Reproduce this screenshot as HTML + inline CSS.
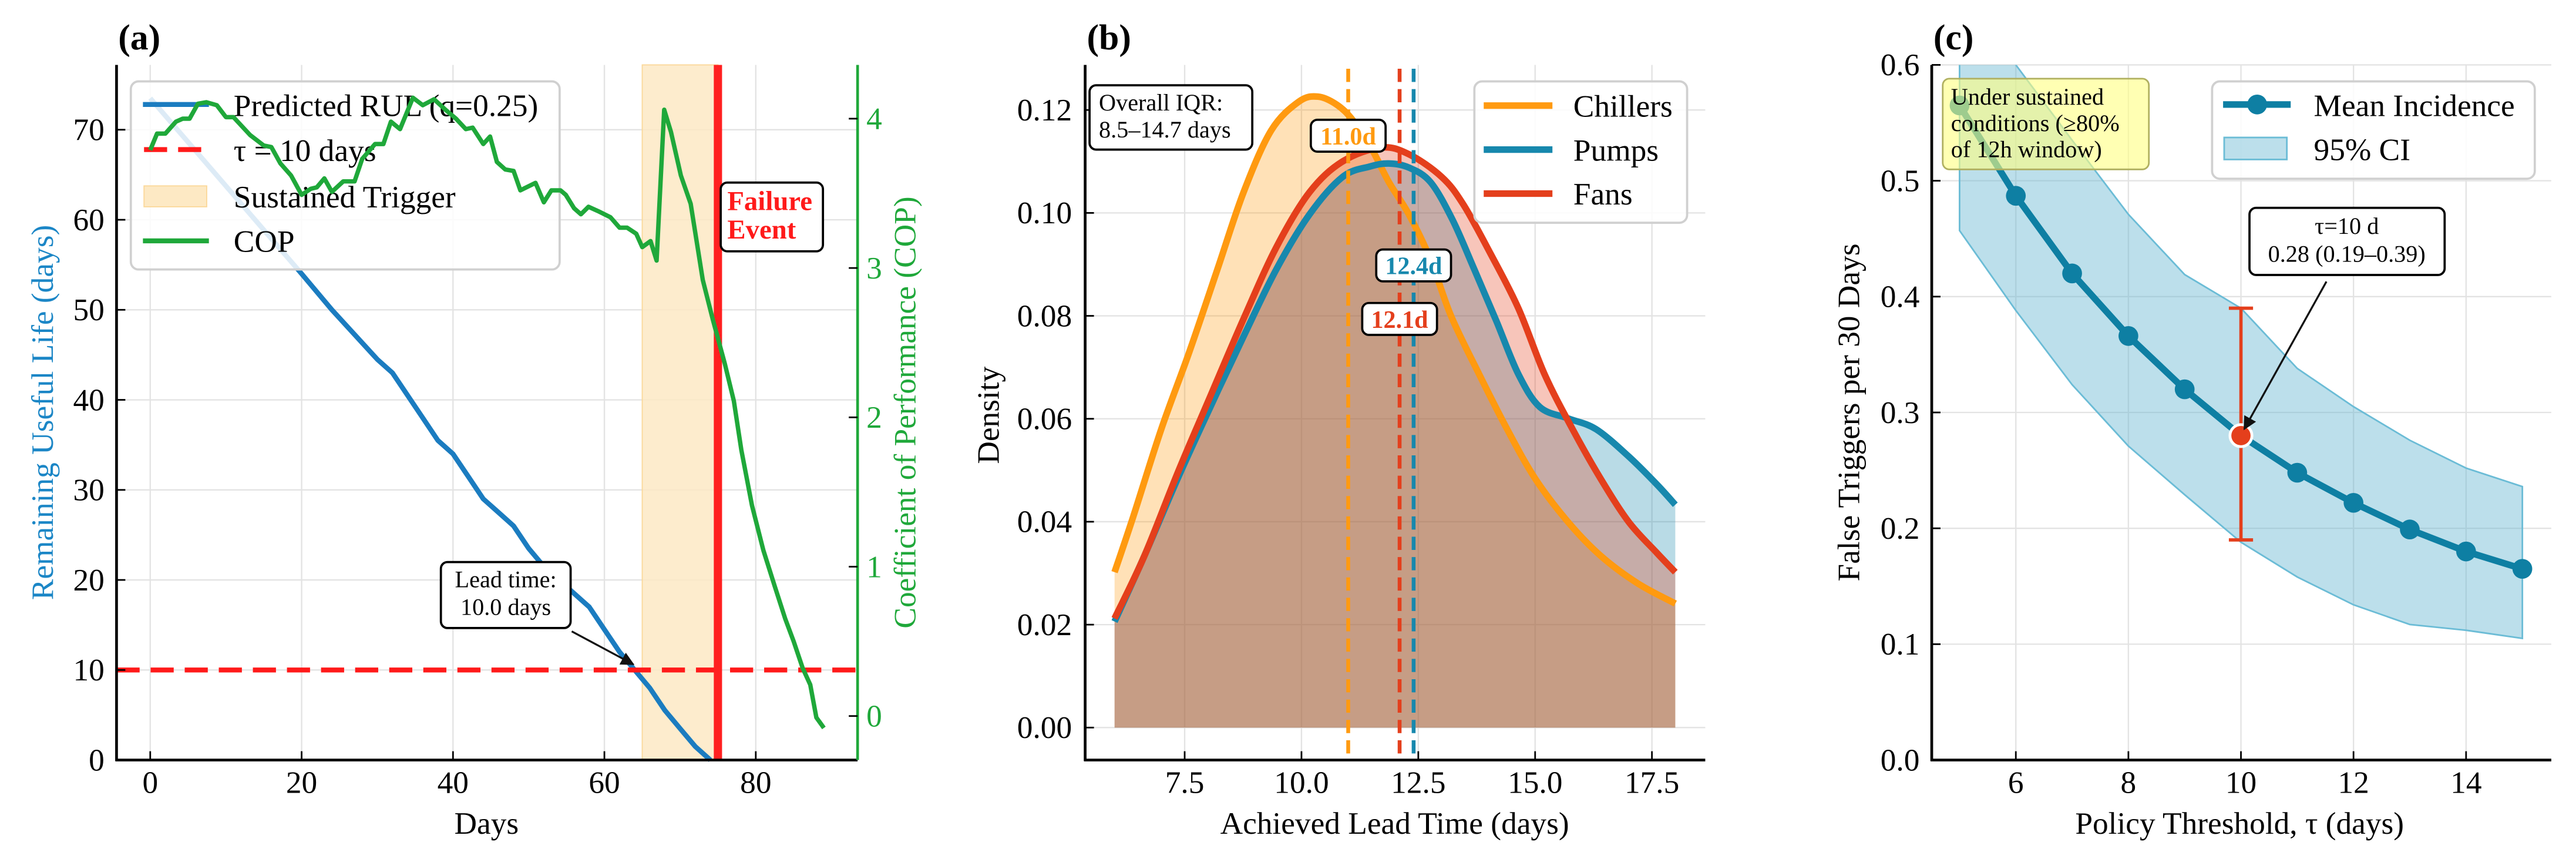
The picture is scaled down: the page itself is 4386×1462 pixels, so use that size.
<!DOCTYPE html>
<html><head><meta charset="utf-8">
<style>
html,body{margin:0;padding:0;background:#fff;}
svg{display:block;font-family:"Liberation Serif",serif;}
</style></head>
<body>
<svg id="fig" xmlns="http://www.w3.org/2000/svg" width="4386" height="1462" viewBox="0 0 4386 1462">
<defs>
<marker id="arr" viewBox="0 0 10 10" refX="9" refY="5" markerWidth="7" markerHeight="7" orient="auto-start-reverse"><path d="M0,0 L10,5 L0,10 z" fill="#111"/></marker>
</defs>
<g id="pa" transform="translate(0,0) scale(0.936)"></g>
<g id="pb" transform="translate(1462,0) scale(0.936)"></g>
<g id="pc" transform="translate(2924,0) scale(0.936)"></g>
</svg>
<script>
// ---------- Panel (a) data ----------
const rulDays = [0,20,24,30,32,36,38,40,42,44,46,48,50,52,56,58,60,62,64,66,68,70,72,74];
const rulVals = [73.5,54,50,44.5,43,38,35.5,34,31.5,29,27.5,26,23.5,21.5,18.5,17,14.5,12,10,8,5.5,3.5,1.5,0];
const copDays = [0,0.9,2,3.4,4.3,5.2,6.3,7.4,8.8,10,11,13.2,15,16,17.2,18.6,20,21.2,22,23,24,25.5,27,28,29.7,30.8,31.8,33,34.7,36,37.5,39,40.4,41.7,42.6,44,44.9,45.8,46.9,48,48.9,50.9,52,53,54.2,54.9,56,56.9,57.9,59.2,60.8,62,63,64.2,65,66.1,66.9,67.9,68.8,70.1,71.4,73,74.3,75.9,77.1,78.1,79.5,81,82.5,83.9,85,86.2,87.2,88,89];
const copVals = [3.79,3.9,3.9,3.98,4.0,4.0,4.1,4.11,4.09,4.01,4.01,3.89,3.82,3.81,3.7,3.62,3.49,3.53,3.54,3.6,3.51,3.58,3.58,3.73,3.83,3.83,3.98,3.93,4.14,4.09,4.13,4.06,4.0,3.93,3.94,3.83,3.88,3.71,3.66,3.65,3.52,3.57,3.44,3.52,3.52,3.49,3.4,3.36,3.41,3.38,3.34,3.27,3.27,3.23,3.14,3.18,3.05,4.06,3.91,3.62,3.43,2.92,2.66,2.36,2.11,1.78,1.41,1.11,0.87,0.65,0.5,0.32,0.21,-0.01,-0.08];
const aXTicks = [0,20,40,60,80];
const aYTicks = [0,10,20,30,40,50,60,70];
const aY2Ticks = [0,1,2,3,4];
const tauLine = [10];
const triggerSpan = [65,75];
const failureDay = [75];
// ---------- Panel (b) data ----------
const chX = [6,6.4,7.0,7.6,8.2,8.76,9.35,9.94,10.35,10.76,11.1,11.5,11.87,12.3,12.76,13.2,13.8,14.4,15.0,15.7,16.4,17.2,18];
const chY = [0.0302,0.041,0.058,0.073,0.089,0.104,0.116,0.1216,0.1226,0.121,0.118,0.1125,0.106,0.0997,0.091,0.080,0.0687,0.058,0.0484,0.040,0.0334,0.028,0.0241];
const puX = [6,6.64,7.35,8.05,8.76,9.46,10.17,10.88,11.46,11.87,12.3,12.76,13.23,13.7,14.17,14.64,15.1,15.7,16.3,17.0,17.6,18];
const puY = [0.0206,0.0334,0.0484,0.0623,0.076,0.089,0.0997,0.107,0.109,0.1096,0.1088,0.106,0.0987,0.089,0.079,0.0687,0.0623,0.0601,0.058,0.0527,0.0473,0.0433];
const faX = [6,6.64,7.35,8.05,8.76,9.46,10.17,10.88,11.7,12.3,13.0,13.46,14.05,14.64,15.2,15.8,16.4,17.0,17.6,18];
const faY = [0.0212,0.0334,0.0495,0.0644,0.0794,0.0933,0.104,0.110,0.1127,0.1114,0.107,0.1017,0.092,0.0815,0.0687,0.058,0.0484,0.040,0.034,0.0302];
const medians = [11.0,12.4,12.1];
const medianLabelY = [0.115,0.0898,0.0794];
const medianLabels = ["11.0d","12.4d","12.1d"];
const bXTicks = [7.5,10.0,12.5,15.0,17.5];
const bYTicks = [0,0.02,0.04,0.06,0.08,0.10,0.12];
// ---------- Panel (c) data ----------
const tauVals = [5,6,7,8,9,10,11,12,13,14,15];
const meanInc = [0.565,0.487,0.42,0.366,0.32,0.28,0.248,0.222,0.199,0.18,0.165];
const ciUpper = [0.70,0.60,0.535,0.471,0.419,0.39,0.338,0.305,0.276,0.252,0.236];
const ciLower = [0.457,0.388,0.324,0.271,0.229,0.188,0.158,0.134,0.117,0.112,0.105];
const selTau = [10];
const selVal = [0.28,0.19,0.39];
const cXTicks = [6,8,10,12,14];
const cYTicks = [0,0.1,0.2,0.3,0.4,0.5,0.6];

const NS="http://www.w3.org/2000/svg";
function mk(parent, tag, attrs, text){
  const e=document.createElementNS(NS,tag);
  for(const k in attrs) e.setAttribute(k,attrs[k]);
  if(text!==undefined) e.textContent=text;
  parent.appendChild(e); return e;
}
function lin(d0,d1,r0,r1){return v=>r0+(v-d0)/(d1-d0)*(r1-r0);}
function poly(xs,ys,sx,sy){return xs.map((x,i)=>sx(x).toFixed(1)+","+sy(ys[i]).toFixed(1)).join(" ");}
function smooth(xs,ys,sx,sy){
  const p=xs.map((x,i)=>[sx(x),sy(ys[i])]);
  let d="M"+p[0][0]+","+p[0][1];
  for(let i=0;i<p.length-1;i++){
    const p0=p[i-1]||p[i],p1=p[i],p2=p[i+1],p3=p[i+2]||p2;
    const c1=[p1[0]+(p2[0]-p0[0])/6,p1[1]+(p2[1]-p0[1])/6];
    const c2=[p2[0]-(p3[0]-p1[0])/6,p2[1]-(p3[1]-p1[1])/6];
    d+=" C"+c1[0].toFixed(1)+","+c1[1].toFixed(1)+" "+c2[0].toFixed(1)+","+c2[1].toFixed(1)+" "+p2[0].toFixed(1)+","+p2[1].toFixed(1);
  }
  return d;
}
const L=118,B=1382,FS=57,SF=43;
function grid(g,L0,R0,xs,ys,sx,sy){
  xs.forEach(v=>{const e=mk(g,"line",{x1:sx(v),x2:sx(v),y1:L,y2:B,stroke:"#e3e3e3","stroke-width":2.5});
    
    });
  ys.forEach(v=>{const e=mk(g,"line",{x1:L0,x2:R0,y1:sy(v),y2:sy(v),stroke:"#e3e3e3","stroke-width":2.5});
    
    });
}
function axes(g,L0,R0,xs,ys,sx,sy,fx,fy,tx){
  xs.forEach(v=>{
    const t=mk(g,"line",{x1:sx(v),x2:sx(v),y1:B,y2:B-16,stroke:"#000","stroke-width":3});
    
    
    const l=mk(g,"text",{x:sx(v),y:B+60,"text-anchor":"middle","font-size":FS},fx(v));
    
    
  });
  ys.forEach(v=>{
    const t=mk(g,"line",{x1:L0,x2:L0+16,y1:sy(v),y2:sy(v),stroke:"#000","stroke-width":3});
    
    
    const l=mk(g,"text",{x:tx,y:sy(v)+19,"text-anchor":"end","font-size":FS},fy(v));
    
    
  });
  const s1=mk(g,"line",{x1:L0,x2:L0,y1:L,y2:B+2,stroke:"#000","stroke-width":5});
  
  
  const s2=mk(g,"line",{x1:L0-2,x2:R0,y1:B,y2:B,stroke:"#000","stroke-width":5});
  
  
}
function label(g,txt,x,y,opts,name){
  const a=Object.assign({x:x,y:y,"font-size":FS},opts||{});
  const e=mk(g,"text",a,txt);
  
  
  return e;
}
function box(g,x,y,w,h,name,fill,stroke){
  const e=mk(g,"rect",{x:x,y:y,width:w,height:h,rx:12,fill:fill||"#fff",stroke:stroke||"#000","stroke-width":4});
  
  
  return e;
}

// ================= Panel A =================
(function(){
  const g=document.getElementById("pa");
  const L0=212,R0=1560;
  const sx=lin(-4.45,93.45,L0,R0), sy=lin(0,77.2,B,L), sy2=lin(0,4.36,1302,L);
  grid(g,L0,R0,aXTicks,aYTicks,sx,sy);
  const span=mk(g,"rect",{x:sx(triggerSpan[0]),y:L,width:sx(triggerSpan[1])-sx(triggerSpan[0]),height:B-L,fill:"#fde9c4","fill-opacity":0.85,stroke:"#fbd89a","stroke-width":2});
  
  
  const rul=mk(g,"polyline",{points:poly(rulDays,rulVals,sx,sy),fill:"none",stroke:"#1b7cc0","stroke-width":9,"stroke-linejoin":"round"});
  
  
  const tau=mk(g,"line",{x1:L0,x2:R0,y1:sy(tauLine[0]),y2:sy(tauLine[0]),stroke:"#ff1a1a","stroke-width":9,"stroke-dasharray":"42,20"});
  
  
  const fl=mk(g,"line",{x1:sx(failureDay[0]),x2:sx(failureDay[0]),y1:L,y2:B,stroke:"#ff2020","stroke-width":15});
  
  
  axes(g,L0,R0,aXTicks,aYTicks,sx,sy,v=>String(v),v=>String(v),190);
  const lg=mk(g,"g",{});
  
  
  const lb=mk(lg,"rect",{x:238,y:148,width:780,height:342,rx:14,fill:"#fff","fill-opacity":0.85,stroke:"#d0d0d0","stroke-width":4});
  
  
  const h1=mk(lg,"line",{x1:260,x2:380,y1:190,y2:190,stroke:"#1b7cc0","stroke-width":9});
  
  
  const h2=mk(lg,"line",{x1:262,x2:380,y1:272,y2:272,stroke:"#ff1a1a","stroke-width":9,"stroke-dasharray":"42,20"});
  
  
  const h3=mk(lg,"rect",{x:262,y:338,width:114,height:38,fill:"#fde9c4",stroke:"#fbd89a","stroke-width":2});
  
  
  const h4=mk(lg,"line",{x1:260,x2:380,y1:438,y2:438,stroke:"#1fa83a","stroke-width":9});
  
  
  label(lg,"Predicted RUL (q=0.25)",425,211,{},"legend-entry-rul");
  label(lg,"τ = 10 days",425,293,{},"legend-entry-tau");
  label(lg,"Sustained Trigger",425,377,{},"legend-entry-trigger");
  label(lg,"COP",425,458,{},"legend-entry-cop");
  const cop=mk(g,"polyline",{points:poly(copDays,copVals,sx,sy2),fill:"none",stroke:"#1fa83a","stroke-width":8,"stroke-linejoin":"round"});
  
  
  const rs=mk(g,"line",{x1:R0,x2:R0,y1:L,y2:B,stroke:"#1fa83a","stroke-width":5});
  
  
  aY2Ticks.forEach(v=>{
    const t=mk(g,"line",{x1:R0-16,x2:R0,y1:sy2(v),y2:sy2(v),stroke:"#000","stroke-width":3});
    
    
    const l=mk(g,"text",{x:R0+16,y:sy2(v)+19,"font-size":FS,fill:"#1fa83a"},String(v));
    
    
  });
  box(g,1311,332,186,125,"failure-event-box");
  label(g,"Failure",1323,382,{"font-weight":"bold",fill:"#ff1a1a","font-size":50},"failure-event-label");
  label(g,"Event",1323,434,{"font-weight":"bold",fill:"#ff1a1a","font-size":50},"failure-event-label-2");
  box(g,802,1022,236,120,"lead-time-box");
  label(g,"Lead time:",920,1068,{"text-anchor":"middle","font-size":SF},"lead-time-label");
  label(g,"10.0 days",920,1118,{"text-anchor":"middle","font-size":SF},"lead-time-value");
  const ar=mk(g,"line",{x1:1040,y1:1148,x2:1152,y2:1208,stroke:"#111","stroke-width":3.5,"marker-end":"url(#arr)"});
  
  
  label(g,"(a)",215,90,{"font-weight":"bold","font-size":66},"panel-a-title");
  label(g,"Days",885,1516,{"text-anchor":"middle"},"x-axis-title-a");
  label(g,"Remaining Useful Life (days)",0,0,{"text-anchor":"middle",fill:"#1b86c6",transform:"translate(96,750) rotate(-90)"},"y-axis-title-a");
  label(g,"Coefficient of Performance (COP)",0,0,{"text-anchor":"middle",fill:"#1fa83a",transform:"translate(1665,750) rotate(-90)"},"y2-axis-title-a");
})();

// ================= Panel B =================
(function(){
  const g=document.getElementById("pb");
  const L0=412,R0=1540;
  const sx=lin(7.5,17.5,593,1443), sy=lin(0,0.12,1323,200);
  grid(g,L0,R0,bXTicks,bYTicks,sx,sy);
  const series=[[chX,chY,"#ff9a10","chillers"],[puX,puY,"#1788ad","pumps"],[faX,faY,"#e43f1c","fans"]];
  series.forEach(s=>{
    const d=smooth(s[0],s[1],sx,sy)+" L"+sx(s[0][s[0].length-1])+","+sy(0)+" L"+sx(s[0][0])+","+sy(0)+" Z";
    const f=mk(g,"path",{d:d,fill:s[2],"fill-opacity":0.3,stroke:"none"});
    
    
  });
  series.forEach(s=>{
    const p=mk(g,"path",{d:smooth(s[0],s[1],sx,sy),fill:"none",stroke:s[2],"stroke-width":12});
    
    
  });
  const mcol=["#ff9a10","#1788ad","#e43f1c"];
  medians.forEach((m,i)=>{
    const l=mk(g,"line",{x1:sx(m),x2:sx(m),y1:125,y2:B,stroke:mcol[i],"stroke-width":7,"stroke-dasharray":"24,13"});
    
    
  });
  medians.forEach((m,i)=>{
    const cy=sy(medianLabelY[i]);
    box(g,sx(m)-68,cy-29,136,58,"median-label-box");
    label(g,medianLabels[i],sx(m),cy+16,{"text-anchor":"middle","font-weight":"bold","font-size":45,fill:mcol[i]},"median-label");
  });
  axes(g,L0,R0,bXTicks,bYTicks,sx,sy,v=>v.toFixed(1),v=>v.toFixed(2),388);
  box(g,420,155,296,117,"iqr-box");
  label(g,"Overall IQR:",437,201,{"font-size":SF},"iqr-label");
  label(g,"8.5–14.7 days",437,250,{"font-size":SF},"iqr-value");
  const lg=mk(g,"g",{});
  
  
  const lb=mk(lg,"rect",{x:1120,y:148,width:387,height:257,rx:14,fill:"#fff","fill-opacity":0.85,stroke:"#d0d0d0","stroke-width":4});
  
  
  ["Chillers","Pumps","Fans"].forEach((n,i)=>{
    const h=mk(lg,"line",{x1:1137,x2:1262,y1:192+i*80,y2:192+i*80,stroke:mcol[i],"stroke-width":12});
    
    
    label(lg,n,1300,212+i*80,{},"legend-entry");
  });
  label(g,"(b)",415,90,{"font-weight":"bold","font-size":66},"panel-b-title");
  label(g,"Achieved Lead Time (days)",975,1516,{"text-anchor":"middle"},"x-axis-title-b");
  label(g,"Density",0,0,{"text-anchor":"middle",transform:"translate(255,755) rotate(-90)"},"y-axis-title-b");
})();

// ================= Panel C =================
(function(){
  const g=document.getElementById("pc");
  const L0=390,R0=1517;
  const sx=lin(6,14,543,1362), sy=lin(0,0.6,1382,118);
  grid(g,L0,R0,cXTicks,cYTicks,sx,sy);
  const cp=mk(g,"clipPath",{id:"clipc"});
  mk(cp,"rect",{x:L0,y:L,width:R0-L0,height:B-L});
  const up=tauVals.map((t,i)=>sx(t)+","+sy(ciUpper[i]));
  const lo=tauVals.map((t,i)=>sx(t)+","+sy(ciLower[i])).reverse();
  const ci=mk(g,"polygon",{points:up.concat(lo).join(" "),fill:"#5fb3cf","fill-opacity":0.42,stroke:"#6bbcd6","stroke-width":3,"clip-path":"url(#clipc)"});
  
  
  const ml=mk(g,"polyline",{points:poly(tauVals,meanInc,sx,sy),fill:"none",stroke:"#0e7fa3","stroke-width":12,"stroke-linejoin":"round"});
  
  
  tauVals.forEach((t,i)=>{
    const c=mk(g,"circle",{cx:sx(t),cy:sy(meanInc[i]),r:18,fill:"#0e7fa3"});
    
    
  });
  const ex=sx(selTau[0]);
  const eb=mk(g,"line",{x1:ex,x2:ex,y1:sy(selVal[1]),y2:sy(selVal[2]),stroke:"#e43f1c","stroke-width":6});
  
  
  [selVal[1],selVal[2]].forEach(v=>{
    const cap=mk(g,"line",{x1:ex-22,x2:ex+22,y1:sy(v),y2:sy(v),stroke:"#e43f1c","stroke-width":6});
    
    
  });
  const sp=mk(g,"circle",{cx:ex,cy:sy(selVal[0]),r:20,fill:"#e43f1c",stroke:"#fff","stroke-width":5});
  
  
  axes(g,L0,R0,cXTicks,cYTicks,sx,sy,v=>String(v),v=>v.toFixed(1),368);
  const yb=mk(g,"rect",{x:410,y:143,width:375,height:165,rx:12,fill:"#ffff80","fill-opacity":0.6,stroke:"#b0b060","stroke-width":3});
  
  
  label(g,"Under sustained",425,190,{"font-size":SF},"sustained-note-line1");
  label(g,"conditions (≥80%",425,238,{"font-size":SF},"sustained-note-line2");
  label(g,"of 12h window)",425,286,{"font-size":SF},"sustained-note-line3");
  box(g,968,378,355,122,"tau-annotation-box");
  label(g,"τ=10 d",1145,425,{"text-anchor":"middle","font-size":SF},"tau-annotation-line1");
  label(g,"0.28 (0.19–0.39)",1145,476,{"text-anchor":"middle","font-size":SF},"tau-annotation-line2");
  const ar=mk(g,"line",{x1:1108,y1:512,x2:ex+6,y2:sy(selVal[0])-12,stroke:"#111","stroke-width":3.5,"marker-end":"url(#arr)"});
  
  
  const lg=mk(g,"g",{});
  
  
  const lb=mk(lg,"rect",{x:900,y:148,width:587,height:177,rx:14,fill:"#fff","fill-opacity":0.85,stroke:"#d0d0d0","stroke-width":4});
  
  
  const lh=mk(lg,"line",{x1:920,x2:1043,y1:190,y2:190,stroke:"#0e7fa3","stroke-width":12});
  
  
  const lc=mk(lg,"circle",{cx:982,cy:190,r:18,fill:"#0e7fa3"});
  
  
  const lp=mk(lg,"rect",{x:922,y:250,width:114,height:40,fill:"#5fb3cf","fill-opacity":0.42,stroke:"#6bbcd6","stroke-width":3});
  
  
  label(lg,"Mean Incidence",1085,211,{},"legend-entry-mean");
  label(lg,"95% CI",1085,291,{},"legend-entry-ci");
  label(g,"(c)",393,90,{"font-weight":"bold","font-size":66},"panel-c-title");
  label(g,"Policy Threshold, τ (days)",950,1516,{"text-anchor":"middle"},"x-axis-title-c");
  label(g,"False Triggers per 30 Days",0,0,{"text-anchor":"middle",transform:"translate(258,750) rotate(-90)"},"y-axis-title-c");
})();
</script>
</body></html>
